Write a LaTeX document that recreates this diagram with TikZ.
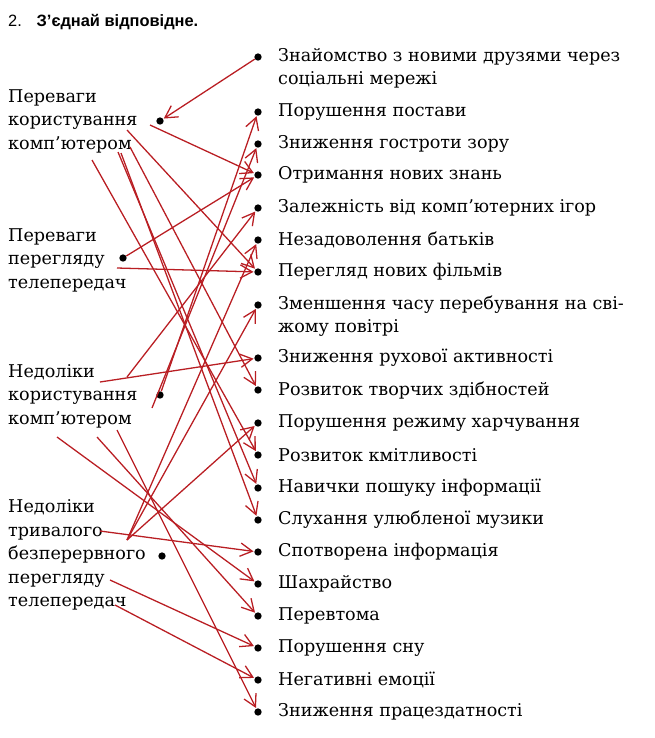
\documentclass[tikz,border=0pt]{standalone}
\usepackage{fontspec}
\setmainfont{DejaVu Serif}
\newfontfamily\titlefont{Liberation Sans}
\usetikzlibrary{arrows.meta}
\definecolor{pen}{RGB}{185,30,35}

\begin{document}
\begin{tikzpicture}[x=0.3mm,y=-0.3mm,
  dot/.style={circle,fill=black,inner sep=0pt,minimum size=2.2mm},
  item/.style={anchor=west,inner sep=0pt,align=left,font=\fontsize{15}{19.5}\selectfont},
  group/.style={anchor=west,inner sep=0pt,align=left,font=\fontsize{15}{20}\selectfont},
  link/.style={pen,line width=1.1pt,-{Straight Barb[length=3.6mm,width=4mm]},shorten >=0.5pt}]
\useasboundingbox (0,0) rectangle (655,738);

\node [anchor=west,inner sep=0pt,font=\titlefont\fontsize{14}{16}\selectfont] (title) at (8,22) {2.\hspace{0.9em}\textbf{З’єднай відповідне.}};

% left column
\node [group] (g1) at (8,121) {Переваги\\користування\\комп’ютером};
\node [dot] (l1) at (160,121) {};
\node [group] (g2) at (8,260) {Переваги\\перегляду\\телепередач};
\node [dot] (l2) at (123,258) {};
\node [group] (g3) at (8,396) {Недоліки\\користування\\комп’ютером};
\node [dot] (l3) at (160,395) {};
\node [group] (g4) at (8,555) {Недоліки\\тривалого\\безперервного\\перегляду\\телепередач};
\node [dot] (l4) at (162,556) {};

% right column
\node [dot] (d1) at (258,57) {};
\node [item] (r1) at (278,68.5) {Знайомство з новими друзями через\\соціальні мережі};
\node [dot] (d2) at (258,112) {};
\node [item] (r2) at (278,112) {Порушення постави};
\node [dot] (d3) at (258,144) {};
\node [item] (r3) at (278,144) {Зниження гостроти зору};
\node [dot] (d4) at (258,175) {};
\node [item] (r4) at (278,175) {Отримання нових знань};
\node [dot] (d5) at (258,208) {};
\node [item] (r5) at (278,208) {Залежність від комп’ютерних ігор};
\node [dot] (d6) at (258,240) {};
\node [item] (r6) at (278,240) {Незадоволення батьків};
\node [dot] (d7) at (258,272) {};
\node [item] (r7) at (278,272) {Перегляд нових фільмів};
\node [dot] (d8) at (258,305) {};
\node [item] (r8) at (278,316) {Зменшення часу перебування на сві-\\жому повітрі};
\node [dot] (d9) at (258,358) {};
\node [item] (r9) at (278,358) {Зниження рухової активності};
\node [dot] (d10) at (258,390) {};
\node [item] (r10) at (278,390) {Розвиток творчих здібностей};
\node [dot] (d11) at (258,423) {};
\node [item] (r11) at (278,423) {Порушення режиму харчування};
\node [dot] (d12) at (258,455) {};
\node [item] (r12) at (278,455) {Розвиток кмітливості};
\node [dot] (d13) at (258,488) {};
\node [item] (r13) at (278,488) {Навички пошуку інформації};
\node [dot] (d14) at (258,520) {};
\node [item] (r14) at (278,520) {Слухання улюбленої музики};
\node [dot] (d15) at (258,552) {};
\node [item] (r15) at (278,552) {Спотворена інформація};
\node [dot] (d16) at (258,584) {};
\node [item] (r16) at (278,584) {Шахрайство};
\node [dot] (d17) at (258,616) {};
\node [item] (r17) at (278,616) {Перевтома};
\node [dot] (d18) at (258,648) {};
\node [item] (r18) at (278,648) {Порушення сну};
\node [dot] (d19) at (258,680) {};
\node [item] (r19) at (278,680) {Негативні емоції};
\node [dot] (d20) at (258,712) {};
\node [item] (r20) at (278,712) {Зниження працездатності};

% where the pen lines start
\coordinate (ka) at (150,125);
\coordinate (kb) at (127,130);
\coordinate (kc) at (130,147);
\coordinate (kd) at (92,160);
\coordinate (ke) at (118,152);
\coordinate (kf) at (121,153);
\coordinate (ta) at (117,268);
\coordinate (na) at (152,408);
\coordinate (nb) at (127,377);
\coordinate (nc) at (100,382);
\coordinate (nd) at (57,437);
\coordinate (ne) at (97,437);
\coordinate (nf) at (117,430);
\coordinate (va) at (127,540);
\coordinate (vb) at (100,531);
\coordinate (vc) at (110,580);
\coordinate (vd) at (115,605);

\draw [link] (d1) -- (l1);
\draw [link] (ka) -- (d4);
\draw [link] (kb) -- (d7);
\draw [link] (kc) -- (d10);
\draw [link] (kd) -- (d12);
\draw [link] (ke) -- (d13);
\draw [link] (kf) -- (d14);
\draw [link] (l2) -- (d4);
\draw [link] (ta) -- (d7);
\draw [link] (l3) -- (d2);
\draw [link] (na) -- (d3);
\draw [link] (nb) -- (d5);
\draw [link] (nc) -- (d9);
\draw [link] (nd) -- (d16);
\draw [link] (ne) -- (d17);
\draw [link] (nf) -- (d20);
\draw [link] (va) -- (d6);
\draw [link] (va) -- (d8);
\draw [link] (va) -- (d11);
\draw [link] (vb) -- (d15);
\draw [link] (vc) -- (d18);
\draw [link] (vd) -- (d19);
\end{tikzpicture}
\end{document}
